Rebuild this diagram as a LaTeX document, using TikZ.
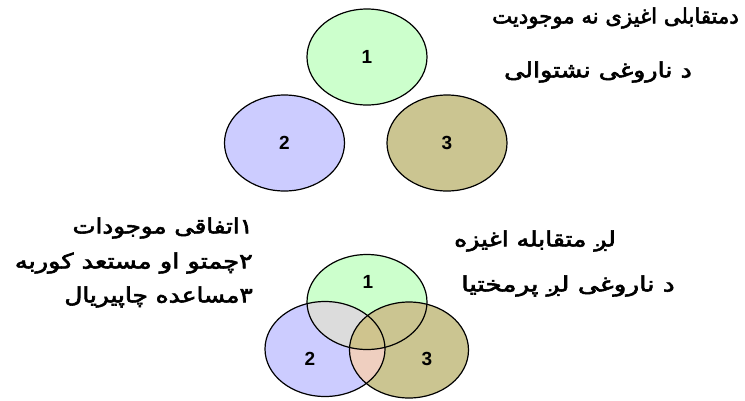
\documentclass[tikz,border=0pt]{standalone}
\usepackage{fontspec}
\setmainfont{Liberation Sans}
\TeXXeTstate=1
\newfontfamily\arabicfont[Script=Arabic, FakeBold=2.6]{DejaVu Sans}
\usetikzlibrary{shapes.geometric}
\definecolor{vgreen}{HTML}{CCFFCC}
\definecolor{vlav}{HTML}{CCCCFF}
\definecolor{volive}{HTML}{CBC591}
\definecolor{vgrey}{HTML}{DCDCDC}
\definecolor{vpink}{HTML}{EFCFC0}
\definecolor{vcenter}{HTML}{CFC48E}
\begin{document}
\begin{tikzpicture}[x=1pt,y=-1pt,
  venn/.style={ellipse, draw=black, line width=1.2pt, minimum width=120pt, minimum height=96pt, inner sep=0pt},
  num/.style={font=\bfseries\fontsize{19}{19}\selectfont},
  ptxt/.style={font=\arabicfont\fontsize{20}{22}\selectfont, inner sep=0pt}]
\useasboundingbox (0,0) rectangle (745,400);
% top separate circles
\node[venn, fill=vgreen] (t1) at (367,57) {};
\node[venn, fill=vlav] (t2) at (284.5,143) {};
\node[venn, fill=volive] (t3) at (447,143) {};
\node[num] (tn1) at (t1) {1};
\node[num] (tn2) at (t2) {2};
\node[num] (tn3) at (t3) {3};
% bottom venn fills
\fill[vlav] (325,349) ellipse [x radius=60, y radius=47.5];
\fill[volive] (409,350) ellipse [x radius=59.5, y radius=48];
\fill[vgreen] (367,302) ellipse [x radius=60, y radius=47.5];
\begin{scope}
  \clip (367,302) ellipse [x radius=60, y radius=47.5];
  \fill[vgrey] (325,349) ellipse [x radius=60, y radius=47.5];
  \fill[volive] (409,350) ellipse [x radius=59.5, y radius=48];
\end{scope}
\begin{scope}
  \clip (325,349) ellipse [x radius=60, y radius=47.5];
  \fill[vpink] (409,350) ellipse [x radius=59.5, y radius=48];
  \clip (409,350) ellipse [x radius=59.5, y radius=48];
  \fill[vcenter] (367,302) ellipse [x radius=60, y radius=47.5];
\end{scope}
\node[venn, minimum height=95pt] (b1) at (367,302) {};
\node[venn, minimum height=95pt] (b2) at (325,349) {};
\node[venn, minimum width=119pt] (b3) at (409,350) {};
\node[num] (bn1) at (368,282) {1};
\node[num] (bn2) at (310,359) {2};
\node[num] (bn3) at (427,359) {3};
% texts
\node[ptxt, anchor=east] (tx1) at (739,18) {\scalebox{1.06}[1.05]{\beginR دمتقابلی اغیزی نه موجودیت\endR}};
\node[ptxt] (tx2) at (598,72) {\scalebox{1.27}[1.05]{\beginR د ناروغی نشتوالی\endR}};
\node[ptxt, anchor=east] (m1) at (253,228) {\scalebox{1.22}[1.05]{\beginR ۱اتفاقی موجودات\endR}};
\node[ptxt, anchor=east] (m2) at (253,263) {\scalebox{1.28}[1.05]{\beginR ۲چمتو او مستعد کوربه\endR}};
\node[ptxt, anchor=east] (m3) at (253,297) {\scalebox{1.24}[1.05]{\beginR ۳مساعده چاپیریال\endR}};
\node[ptxt] (r1) at (535,241) {\scalebox{1.25}[1.05]{\beginR لږ متقابله اغیزه\endR}};
\node[ptxt] (r2) at (568,286) {\scalebox{1.32}[1.05]{\beginR د ناروغی لږ پرمختیا\endR}};
\end{tikzpicture}
\end{document}
